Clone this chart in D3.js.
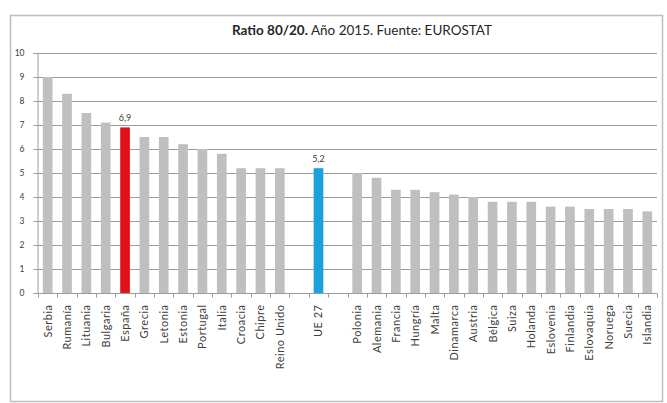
<!DOCTYPE html>
<html>
<head>
<meta charset="utf-8">
<script src="https://cdn.jsdelivr.net/npm/d3@7"></script>
<style>
  html, body { margin: 0; padding: 0; background: #fff; }
  svg { display: block; font-family: Lato, "Open Sans", sans-serif; }
</style>
</head>
<body>
<svg id="chart" width="667" height="403"></svg>
<script>
// Ratio S80/S20 by country, 2015 (empty strings are spacer slots)
const categories = [
  "Serbia", "Rumanía", "Lituania", "Bulgaria", "España", "Grecia", "Letonia",
  "Estonia", "Portugal", "Italia", "Croacia", "Chipre", "Reino Unido",
  "", "UE 27", "",
  "Polonia", "Alemania", "Francia", "Hungría", "Malta", "Dinamarca", "Austria",
  "Bélgica", "Suiza", "Holanda", "Eslovenia", "Finlandia", "Eslovaquia",
  "Noruega", "Suecia", "Islandia"
];
const values = [
  9.0, 8.3, 7.5, 7.1, 6.9, 6.5, 6.5,
  6.2, 6.0, 5.8, 5.2, 5.2, 5.2,
  null, 5.2, null,
  5.0, 4.8, 4.3, 4.3, 4.2, 4.1, 4.0,
  3.8, 3.8, 3.8, 3.6, 3.6, 3.5,
  3.5, 3.5, 3.4
];
const highlighted = { "España": "#e2101a", "UE 27": "#1ba1dd" };
const labelled = ["España", "UE 27"];
const yTicks = [0, 1, 2, 3, 4, 5, 6, 7, 8, 9, 10];
const title = ["Ratio 80/20.", " Año 2015. Fuente: EUROSTAT"];

const svg = d3.select("#chart");
const W = 667, H = 403;
const plot = { left: 38, right: 657, top: 53, bottom: 293 };

svg.append("rect").attr("width", W).attr("height", H).attr("fill", "#fff");
// chart frame
svg.append("rect")
  .attr("x", 10.5).attr("y", 15.5).attr("width", 652).attr("height", 386)
  .attr("fill", "none").attr("stroke", "#bdbdbd").attr("stroke-width", 1.5);

const idx = d3.range(categories.length);
const x = d3.scaleBand().domain(idx).range([plot.left, plot.right])
  .paddingInner(0.5).paddingOuter(0.25);
const y = d3.scaleLinear().domain([0, 10]).range([plot.bottom, plot.top]);

const gridColor = "#9c9c9c";

// horizontal gridlines
svg.append("g").selectAll("line").data(yTicks.filter(d => d > 0)).join("line")
  .attr("x1", plot.left - 1).attr("x2", plot.right)
  .attr("y1", d => Math.round(y(d)) + 0.5).attr("y2", d => Math.round(y(d)) + 0.5)
  .attr("stroke", gridColor).attr("stroke-width", 1.2);

// y axis
const yAxis = svg.append("g")
  .attr("transform", `translate(${plot.left - 0.5},0)`)
  .call(d3.axisLeft(y).tickValues(yTicks).tickSize(4).tickPadding(9).tickFormat(d3.format("d")));
yAxis.select(".domain").attr("stroke", gridColor);
yAxis.selectAll(".tick line").attr("stroke", gridColor);
yAxis.selectAll(".tick text").attr("fill", "#404040")
  .style("font-size", "8.5px").style("font-family", "Lato, sans-serif");

// bars
svg.append("g").selectAll("rect")
  .data(idx.filter(i => values[i] !== null)).join("rect")
  .attr("x", i => x(i)).attr("width", x.bandwidth())
  .attr("y", i => y(values[i])).attr("height", i => y(0) - y(values[i]))
  .attr("fill", i => highlighted[categories[i]] || "#bfbfbf");

// value labels
svg.append("g").selectAll("text")
  .data(idx.filter(i => labelled.includes(categories[i]))).join("text")
  .attr("x", i => x(i) + x.bandwidth() / 2)
  .attr("y", i => y(values[i]) - 6)
  .attr("text-anchor", "middle")
  .attr("fill", "#404040").style("font-size", "9px")
  .text(i => d3.format(".1f")(values[i]).replace(".", ","));

// x axis with ticks between categories
const xg = svg.append("g").attr("transform", `translate(0,${plot.bottom + 0.5})`);
xg.append("line").attr("x1", plot.left - 1).attr("x2", plot.right)
  .attr("stroke", gridColor).attr("stroke-width", 1.2);
const step = x.step();
const boundaries = d3.range(categories.length + 1).map(k => x(0) - step * 0.25 + k * step);
xg.selectAll("line.tk").data(boundaries).join("line").attr("class", "tk")
  .attr("x1", d => Math.round(d) + 0.5).attr("x2", d => Math.round(d) + 0.5)
  .attr("y1", 0).attr("y2", 4).attr("stroke", gridColor);
xg.selectAll("text").data(idx.filter(i => categories[i] !== "")).join("text")
  .attr("transform", i => `translate(${x(i) + x.bandwidth() / 2 + 4},${11}) rotate(-90)`)
  .attr("text-anchor", "end")
  .attr("fill", "#404040").style("font-size", "11px").style("letter-spacing", "0.5px")
  .text(i => categories[i]);

// title
const t = svg.append("text").attr("x", 362).attr("y", 35)
  .attr("text-anchor", "middle").attr("fill", "#262626").style("font-size", "13.5px");
t.append("tspan").attr("font-weight", "bold").text(title[0]);
t.append("tspan").text(title[1]);
</script>
</body>
</html>
